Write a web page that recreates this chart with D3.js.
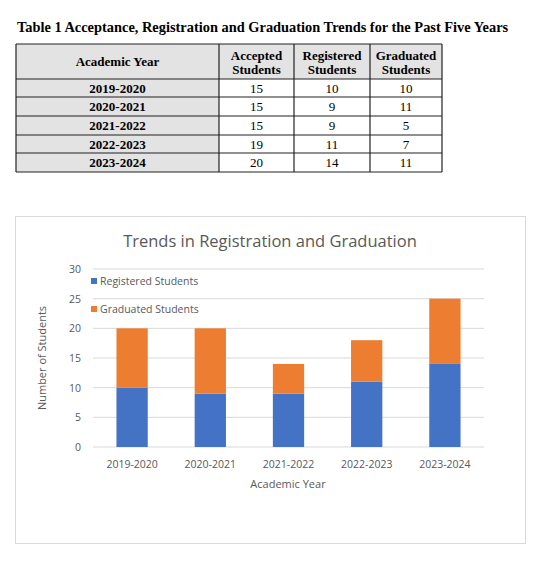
<!DOCTYPE html>
<html><head><meta charset="utf-8">
<script src="https://cdn.jsdelivr.net/npm/d3@7"></script>
<style>body{margin:0;background:#fff}</style>
</head><body>
<svg id="page" width="550" height="563"></svg>
<script>
const years = ["2019-2020", "2020-2021", "2021-2022", "2022-2023", "2023-2024"];
const accepted = [15, 15, 15, 19, 20];
const registered = [10, 9, 9, 11, 14];
const graduated = [10, 11, 5, 7, 11];
const yTicks = [0, 5, 10, 15, 20, 25, 30];

const svg = d3.select("#page");

// ---- table ----
const serif = "'Liberation Serif', 'Times New Roman', serif";
svg.append("text").attr("x", 17).attr("y", 32)
    .attr("font-family", serif).attr("font-size", 14.4).attr("font-weight", "bold")
    .text("Table 1 Acceptance, Registration and Graduation Trends for the Past Five Years");

const colX = [16, 219, 294, 370, 442];
const rowY = [44, 79, 97, 116, 135, 153, 172];
const header = [["Academic Year"], ["Accepted", "Students"], ["Registered", "Students"], ["Graduated", "Students"]];

const t = svg.append("g");
t.append("rect").attr("x", colX[0]).attr("y", rowY[0]).attr("width", colX[4] - colX[0]).attr("height", rowY[1] - rowY[0]).attr("fill", "#e3e3e3");
t.append("rect").attr("x", colX[0]).attr("y", rowY[1]).attr("width", colX[1] - colX[0]).attr("height", rowY[6] - rowY[1]).attr("fill", "#e3e3e3");

header.forEach((h, i) => {
    const cx = (colX[i] + colX[i + 1]) / 2;
    h.forEach((line, j) => {
        t.append("text").attr("x", cx).attr("y", h.length === 1 ? 66 : 60 + j * 14)
            .attr("text-anchor", "middle").attr("font-family", serif).attr("font-size", 13).attr("font-weight", "bold")
            .text(line);
    });
});

years.forEach((yr, r) => {
    const cy = (rowY[r + 1] + rowY[r + 2]) / 2 + 4.5;
    [yr, accepted[r], registered[r], graduated[r]].forEach((v, c) => {
        t.append("text").attr("x", (colX[c] + colX[c + 1]) / 2).attr("y", cy)
            .attr("text-anchor", "middle").attr("font-family", serif).attr("font-size", 13)
            .attr("font-weight", c === 0 ? "bold" : "normal").text(v);
    });
});

rowY.forEach(y => t.append("line").attr("x1", colX[0]).attr("x2", colX[4]).attr("y1", y).attr("y2", y).attr("stroke", "#222").attr("stroke-width", 1.2));
colX.forEach(x => t.append("line").attr("x1", x).attr("x2", x).attr("y1", rowY[0]).attr("y2", rowY[6]).attr("stroke", "#222").attr("stroke-width", 1.2));

// ---- chart ----
const sans = "'Open Sans', 'Noto Sans', sans-serif";
svg.append("rect").attr("x", 15.5).attr("y", 216.5).attr("width", 510).attr("height", 327)
    .attr("fill", "#fff").attr("stroke", "#d9d9d9");

svg.append("text").attr("x", 270).attr("y", 247).attr("text-anchor", "middle")
    .attr("font-family", sans).attr("font-size", 16.5).attr("fill", "#595959")
    .text("Trends in Registration and Graduation");

const x = d3.scaleBand().domain(years).range([93, 484]).paddingInner(0.6).paddingOuter(0.3);
const y = d3.scaleLinear().domain([0, 30]).range([447, 269]);

svg.append("g").selectAll("line").data(yTicks).join("line")
    .attr("x1", 93).attr("x2", 484).attr("y1", d => y(d)).attr("y2", d => y(d))
    .attr("stroke", "#d9d9d9");

svg.append("g").selectAll("text").data(yTicks).join("text")
    .attr("x", 81).attr("y", d => y(d) + 4).attr("text-anchor", "end")
    .attr("font-family", sans).attr("font-size", 10.5).attr("fill", "#595959").text(d => d);

const stack = d3.stack().keys(["reg", "grad"])(years.map((yr, i) => ({ yr, reg: registered[i], grad: graduated[i] })));
const colors = ["#4472c4", "#ed7d31"];
svg.append("g").selectAll("g").data(stack).join("g").attr("fill", (d, i) => colors[i])
    .selectAll("rect").data(d => d).join("rect")
    .attr("x", d => x(d.data.yr)).attr("width", x.bandwidth())
    .attr("y", d => y(d[1])).attr("height", d => y(d[0]) - y(d[1]));

svg.append("g").selectAll("text").data(years).join("text")
    .attr("x", d => x(d) + x.bandwidth() / 2).attr("y", 468).attr("text-anchor", "middle")
    .attr("font-family", sans).attr("font-size", 10.5).attr("fill", "#595959").text(d => d);

svg.append("text").attr("x", 288).attr("y", 488).attr("text-anchor", "middle")
    .attr("font-family", sans).attr("font-size", 11).attr("fill", "#595959").text("Academic Year");

svg.append("text").attr("transform", "translate(46,358) rotate(-90)").attr("text-anchor", "middle")
    .attr("font-family", sans).attr("font-size", 11).attr("fill", "#595959").text("Number of Students");

const legendNames = ["Registered Students", "Graduated Students"];
legendNames.forEach((n, i) => {
    const ly = 281 + i * 28;
    svg.append("rect").attr("x", 91).attr("y", ly - 3).attr("width", 6).attr("height", 6).attr("fill", colors[i]);
    svg.append("text").attr("x", 100).attr("y", ly + 4).attr("font-family", sans).attr("font-size", 10.5)
        .attr("fill", "#595959").text(n);
});
</script>
</body></html>
